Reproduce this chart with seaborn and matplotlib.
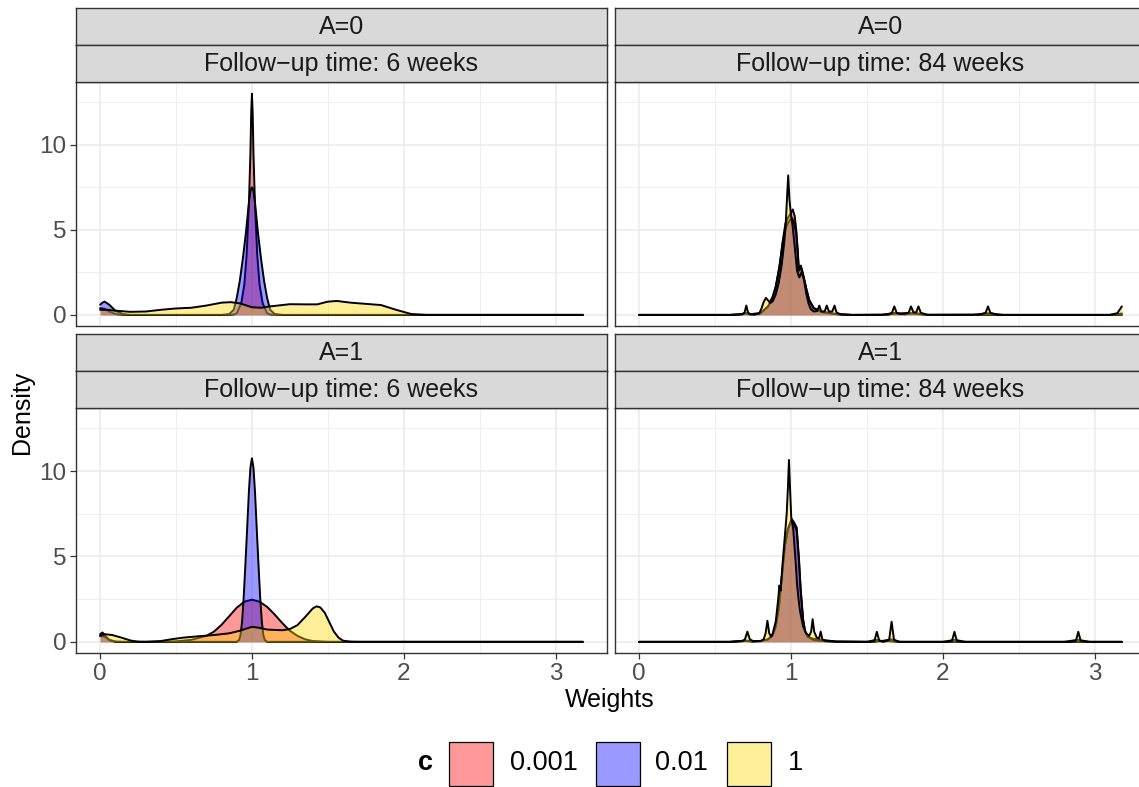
import matplotlib
matplotlib.use("Agg")
import matplotlib.pyplot as plt
import matplotlib.colors as mcolors
from matplotlib.patches import Rectangle
import numpy as np
import pandas as pd
import seaborn as sns

sns.set_theme(style="white")
plt.rcParams['font.family'] = ['Liberation Sans', 'DejaVu Sans']

# ---------------- data (density curves) ----------------
c_levels = ["0.001", "0.01", "1"]
fill_colors = ["#FF0000", "#0000FF", "#FFD700"]
a_levels = ["A=0", "A=1"]
time_levels = ["Follow\u2212up time: 6 weeks", "Follow\u2212up time: 84 weeks"]
x_ticks = [0, 1, 2, 3]
y_ticks = [0, 5, 10]

# A=0, 6 weeks
a0_w6_c0001_x = [0, 0.03, 0.06, 0.1, 0.15, 0.85, 0.88, 0.9, 0.93, 0.95, 0.965, 0.98, 0.99, 0.995, 1.0, 1.005, 1.01, 1.02, 1.035, 1.05, 1.07, 1.1, 1.12, 1.2, 3.18]
a0_w6_c0001_y = [0.4, 0.35, 0.2, 0.05, 0, 0, 0.02, 0.1, 0.7, 1.8, 3.5, 6.5, 9.5, 11.8, 13.0, 11.8, 9.5, 6.5, 3.5, 1.8, 0.7, 0.1, 0.02, 0, 0]
a0_w6_c001_x = [0, 0.015, 0.03, 0.06, 0.1, 0.15, 0.2, 0.8, 0.85, 0.88, 0.9, 0.92, 0.94, 0.96, 0.98, 0.99, 1.0, 1.01, 1.02, 1.04, 1.06, 1.08, 1.1, 1.12, 1.15, 1.2, 3.18]
a0_w6_c001_y = [0.6, 0.72, 0.78, 0.6, 0.25, 0.05, 0, 0, 0.05, 0.3, 1.0, 2.0, 3.3, 4.8, 6.6, 7.3, 7.5, 7.3, 6.6, 4.8, 3.3, 2.0, 1.0, 0.3, 0.05, 0, 0]
a0_w6_c1_x = [0, 0.05, 0.1, 0.2, 0.3, 0.4, 0.5, 0.6, 0.7, 0.8, 0.86, 0.92, 1.0, 1.06, 1.12, 1.25, 1.35, 1.43, 1.5, 1.56, 1.65, 1.75, 1.85, 1.95, 2.05, 2.15, 3.18]
a0_w6_c1_y = [0.3, 0.3, 0.25, 0.18, 0.2, 0.3, 0.38, 0.42, 0.55, 0.72, 0.75, 0.68, 0.45, 0.42, 0.5, 0.63, 0.62, 0.62, 0.78, 0.82, 0.72, 0.65, 0.58, 0.3, 0.05, 0, 0]

# A=0, 84 weeks
a0_w84_c0001_x = [0, 0.6, 0.66, 0.7, 0.74, 0.8, 0.85, 0.88, 0.9, 0.924, 0.947, 0.964, 0.98, 1.0, 1.012, 1.025, 1.035, 1.045, 1.052, 1.065, 1.08, 1.1, 1.12, 1.15, 1.2, 1.25, 1.3, 1.4, 1.6, 1.68, 1.75, 1.81, 1.9, 2.2, 2.3, 2.4, 3.1, 3.18]
a0_w84_c0001_y = [0, 0, 0.03, 0.1, 0.05, 0.1, 0.5, 1.08, 1.67, 2.84, 4.4, 5.4, 5.7, 6.0, 6.2, 5.8, 5.0, 3.8, 2.7, 2.9, 2.4, 1.6, 0.9, 0.4, 0.2, 0.12, 0.05, 0, 0, 0.12, 0.03, 0.12, 0, 0, 0.1, 0, 0, 0.08]
a0_w84_c001_x = [0, 0.6, 0.66, 0.7, 0.74, 0.8, 0.85, 0.88, 0.9, 0.924, 0.947, 0.964, 0.98, 1.0, 1.008, 1.02, 1.035, 1.045, 1.052, 1.065, 1.08, 1.1, 1.12, 1.15, 1.2, 1.25, 1.3, 1.4, 1.6, 1.7, 1.75, 1.8, 1.9, 3.18]
a0_w84_c001_y = [0, 0, 0.03, 0.08, 0.04, 0.1, 0.5, 1.05, 1.65, 2.8, 4.3, 5.1, 5.4, 5.65, 5.7, 5.4, 4.8, 3.6, 2.6, 2.85, 2.35, 1.55, 0.85, 0.4, 0.18, 0.1, 0.04, 0, 0, 0.08, 0.1, 0.08, 0, 0]
a0_w84_c1_x = [0, 0.6, 0.68, 0.695, 0.706, 0.717, 0.73, 0.76, 0.79, 0.805, 0.82, 0.835, 0.85, 0.865, 0.88, 0.9, 0.92, 0.94, 0.955, 0.965, 0.972, 0.982, 0.99, 1.0, 1.01, 1.025, 1.04, 1.055, 1.07, 1.085, 1.1, 1.115, 1.13, 1.15, 1.172, 1.187, 1.2, 1.222, 1.236, 1.25, 1.272, 1.287, 1.3, 1.33, 1.4, 1.64, 1.665, 1.681, 1.697, 1.72, 1.775, 1.791, 1.807, 1.825, 1.84, 1.856, 1.9, 2.24, 2.282, 2.298, 2.314, 2.36, 3.1, 3.15, 3.18]
a0_w84_c1_y = [0, 0, 0.03, 0.15, 0.55, 0.15, 0.03, 0.01, 0.08, 0.35, 0.75, 1.0, 0.85, 0.7, 0.8, 1.2, 1.9, 3.0, 4.2, 5.2, 6.5, 8.2, 6.8, 5.9, 5.3, 4.0, 2.6, 2.2, 2.5, 2.1, 1.3, 0.7, 0.35, 0.2, 0.22, 0.55, 0.2, 0.2, 0.55, 0.2, 0.2, 0.55, 0.15, 0.02, 0, 0.02, 0.12, 0.5, 0.12, 0.05, 0.12, 0.5, 0.15, 0.15, 0.5, 0.12, 0.01, 0.02, 0.12, 0.5, 0.12, 0, 0, 0.1, 0.5]

# A=1, 6 weeks
a1_w6_c0001_x = [0, 0.03, 0.06, 0.1, 0.15, 0.4, 0.5, 0.6, 0.7, 0.75, 0.8, 0.85, 0.9, 0.95, 1.0, 1.05, 1.1, 1.15, 1.2, 1.25, 1.3, 1.35, 1.4, 1.5, 3.18]
a1_w6_c0001_y = [0.35, 0.3, 0.12, 0.02, 0, 0, 0.03, 0.12, 0.35, 0.6, 1.0, 1.5, 2.0, 2.35, 2.47, 2.35, 2.05, 1.6, 1.1, 0.65, 0.35, 0.15, 0.05, 0, 0]
a1_w6_c001_x = [0, 0.015, 0.03, 0.06, 0.1, 0.9, 0.915, 0.925, 0.935, 0.945, 0.955, 0.965, 0.98, 0.99, 1.0, 1.01, 1.02, 1.035, 1.045, 1.055, 1.065, 1.075, 1.085, 1.1, 3.18]
a1_w6_c001_y = [0.45, 0.55, 0.4, 0.1, 0, 0, 0.1, 0.4, 1.2, 2.5, 4.2, 6.0, 8.8, 10.2, 10.75, 10.2, 8.8, 6.0, 4.2, 2.5, 1.2, 0.4, 0.1, 0, 0]
a1_w6_c1_x = [0, 0.03, 0.08, 0.14, 0.2, 0.25, 0.3, 0.4, 0.475, 0.55, 0.65, 0.75, 0.85, 0.92, 1.0, 1.05, 1.1, 1.2, 1.25, 1.3, 1.35, 1.4, 1.425, 1.45, 1.48, 1.51, 1.54, 1.57, 1.6, 1.65, 1.7, 3.18]
a1_w6_c1_y = [0.35, 0.45, 0.4, 0.25, 0.08, 0.01, 0, 0.05, 0.16, 0.25, 0.33, 0.4, 0.5, 0.65, 0.88, 0.82, 0.72, 0.68, 0.75, 0.98, 1.45, 1.95, 2.08, 2.02, 1.7, 1.15, 0.6, 0.25, 0.07, 0.01, 0, 0]

# A=1, 84 weeks
a1_w84_c0001_x = [0, 0.6, 0.7, 0.75, 0.8, 0.85, 0.88, 0.9, 0.92, 0.94, 0.96, 0.98, 1.004, 1.02, 1.038, 1.053, 1.064, 1.08, 1.093, 1.11, 1.14, 1.17, 1.22, 1.3, 1.5, 1.56, 1.6, 1.66, 1.72, 2.0, 2.08, 2.15, 2.8, 2.89, 2.97, 3.18]
a1_w84_c0001_y = [0, 0, 0.08, 0.02, 0.05, 0.15, 0.4, 0.9, 2.0, 3.8, 5.6, 6.6, 7.1, 6.9, 6.5, 4.7, 3.0, 1.3, 0.6, 0.3, 0.2, 0.15, 0.1, 0.02, 0, 0.12, 0.05, 0.15, 0, 0, 0.12, 0, 0, 0.12, 0, 0]
a1_w84_c001_x = [0, 0.6, 0.7, 0.75, 0.8, 0.85, 0.88, 0.9, 0.92, 0.94, 0.96, 0.98, 1.004, 1.02, 1.038, 1.053, 1.064, 1.08, 1.093, 1.11, 1.15, 1.22, 1.3, 1.55, 1.58, 1.65, 1.7, 3.18]
a1_w84_c001_y = [0, 0, 0.06, 0.02, 0.04, 0.15, 0.4, 0.9, 2.0, 3.8, 5.6, 6.6, 7.2, 7.0, 6.7, 4.86, 3.1, 1.33, 0.65, 0.3, 0.1, 0.04, 0.01, 0, 0.05, 0.05, 0, 0]
a1_w84_c1_x = [0, 0.6, 0.68, 0.697, 0.713, 0.729, 0.75, 0.8, 0.82, 0.833, 0.845, 0.857, 0.87, 0.88, 0.9, 0.915, 0.924, 0.932, 0.945, 0.96, 0.972, 0.98, 0.987, 0.994, 1.002, 1.015, 1.03, 1.04, 1.05, 1.06, 1.08, 1.1, 1.12, 1.133, 1.143, 1.153, 1.17, 1.185, 1.196, 1.207, 1.23, 1.3, 1.52, 1.55, 1.566, 1.582, 1.61, 1.647, 1.663, 1.679, 1.71, 2.03, 2.061, 2.077, 2.093, 2.13, 2.84, 2.877, 2.893, 2.909, 2.95, 3.18]
a1_w84_c1_y = [0, 0, 0.04, 0.15, 0.6, 0.15, 0.05, 0.05, 0.15, 0.5, 1.24, 0.5, 0.3, 0.5, 1.2, 2.4, 3.3, 3.0, 4.6, 6.2, 7.5, 9.0, 10.65, 9.0, 7.3, 6.6, 4.8, 3.4, 2.5, 1.8, 0.9, 0.5, 0.35, 0.6, 1.33, 0.6, 0.25, 0.2, 0.6, 0.15, 0.05, 0.01, 0, 0.06, 0.59, 0.06, 0, 0.12, 1.18, 0.12, 0, 0, 0.06, 0.59, 0.06, 0, 0, 0.06, 0.59, 0.06, 0, 0]

curves = [
    ("A=0", time_levels[0], "0.001", a0_w6_c0001_x, a0_w6_c0001_y),
    ("A=0", time_levels[0], "0.01", a0_w6_c001_x, a0_w6_c001_y),
    ("A=0", time_levels[0], "1", a0_w6_c1_x, a0_w6_c1_y),
    ("A=0", time_levels[1], "0.001", a0_w84_c0001_x, a0_w84_c0001_y),
    ("A=0", time_levels[1], "0.01", a0_w84_c001_x, a0_w84_c001_y),
    ("A=0", time_levels[1], "1", a0_w84_c1_x, a0_w84_c1_y),
    ("A=1", time_levels[0], "0.001", a1_w6_c0001_x, a1_w6_c0001_y),
    ("A=1", time_levels[0], "0.01", a1_w6_c001_x, a1_w6_c001_y),
    ("A=1", time_levels[0], "1", a1_w6_c1_x, a1_w6_c1_y),
    ("A=1", time_levels[1], "0.001", a1_w84_c0001_x, a1_w84_c0001_y),
    ("A=1", time_levels[1], "0.01", a1_w84_c001_x, a1_w84_c001_y),
    ("A=1", time_levels[1], "1", a1_w84_c1_x, a1_w84_c1_y),
]
rows = []
for a, t, c, xs, ys in curves:
    for i, (xv, yv) in enumerate(zip(xs, ys)):
        rows.append({"A": a, "time": t, "c": c, "order": i, "Weights": xv, "Density": yv})
df = pd.DataFrame(rows)

# ---------------- layout ----------------
W, H = 1139, 787
fig = plt.figure(figsize=(W / 100, H / 100), dpi=100)
fig.patch.set_facecolor("white")

def fx(px):
    return px / W

def fy(py):
    return 1 - py / H

panel_w = 531
col_left = [76, 615]
row_top = [82, 408]
row_bot = [326, 653]
strip_h = 37

x_lo, x_hi = 0.0, 3.18
y_lo, y_hi = 0.0, 13.04
xlim = (x_lo - 0.05 * (x_hi - x_lo), x_hi + 0.05 * (x_hi - x_lo))
ylim = (y_lo - 0.05 * (y_hi - y_lo), y_hi + 0.05 * (y_hi - y_lo))

border_col = "#333333"
grid_col = "#EBEBEB"

for r, a in enumerate(a_levels):
    for cidx, t in enumerate(time_levels):
        left = col_left[cidx]
        ax = fig.add_axes([fx(left), fy(row_bot[r]), panel_w / W, (row_bot[r] - row_top[r]) / H])
        ax.set_facecolor("white")
        sub_panel = df[(df["A"] == a) & (df["time"] == t)]
        for k, (cl, colr) in enumerate(zip(c_levels, fill_colors)):
            sub = sub_panel[sub_panel["c"] == cl].sort_values("order")
            ax.fill_between(sub["Weights"].values, 0, sub["Density"].values,
                            color=colr, alpha=0.4, lw=0, zorder=2 + 2 * k)
            sns.lineplot(data=sub, x="Weights", y="Density", color="black", lw=1.4,
                         estimator=None, sort=False, ax=ax, zorder=3 + 2 * k, legend=False)
        ax.set_xlim(*xlim)
        ax.set_ylim(*ylim)
        ax.set_xticks(x_ticks)
        ax.set_xticks([0.5, 1.5, 2.5], minor=True)
        ax.set_yticks(y_ticks)
        ax.set_yticks([2.5, 7.5, 12.5], minor=True)
        ax.grid(which="major", color=grid_col, lw=1.1, zorder=0)
        ax.grid(which="minor", color=grid_col, lw=0.55, zorder=0)
        ax.set_axisbelow(True)
        ax.set_xlabel("")
        ax.set_ylabel("")
        ax.tick_params(which="major", direction="out", length=4, width=0.9, color=border_col,
                       labelsize=17.5, labelcolor="#4D4D4D", pad=3)
        ax.tick_params(which="minor", length=0)
        ax.tick_params(axis="x", bottom=(r == 1), labelbottom=(r == 1))
        ax.tick_params(axis="y", left=(cidx == 0), labelleft=(cidx == 0))
        for s in ax.spines.values():
            s.set_color(border_col)
            s.set_linewidth(1.0)
            s.set_zorder(20)
        # strips
        for j, label in enumerate([a, t]):
            top = row_top[r] - strip_h * (2 - j)
            sax = fig.add_axes([fx(left), fy(top + strip_h), panel_w / W, strip_h / H])
            sax.set_facecolor("#D9D9D9")
            sax.set_xticks([])
            sax.set_yticks([])
            for s in sax.spines.values():
                s.set_color(border_col)
                s.set_linewidth(1.0)
            sax.text(0.5, 0.5, label, ha="center", va="center", fontsize=18,
                     color="#1A1A1A", transform=sax.transAxes)

# axis titles
fig.text(fx(22), fy(412), "Density", rotation=90, ha="center", va="center", fontsize=18, color="black")
fig.text(fx(610), fy(700), "Weights", ha="center", va="center", fontsize=18, color="black")

# legend
leg_cy = 763.5
fig.text(fx(418), fy(leg_cy), "c", ha="left", va="center", fontsize=19.5, fontweight="bold", color="black")
key_left = [449, 596, 727]
text_left = [510, 655, 788]
for cl, colr, kl, tl in zip(c_levels, fill_colors, key_left, text_left):
    rect = Rectangle((fx(kl), fy(leg_cy + 22)), 44 / W, 44 / H, transform=fig.transFigure,
                     facecolor=mcolors.to_rgba(colr, 0.4), edgecolor="black", lw=0.9)
    fig.add_artist(rect)
    fig.text(fx(tl), fy(leg_cy), cl, ha="left", va="center", fontsize=19.5, color="black")

fig.savefig("out.png", dpi=100, facecolor="white")
